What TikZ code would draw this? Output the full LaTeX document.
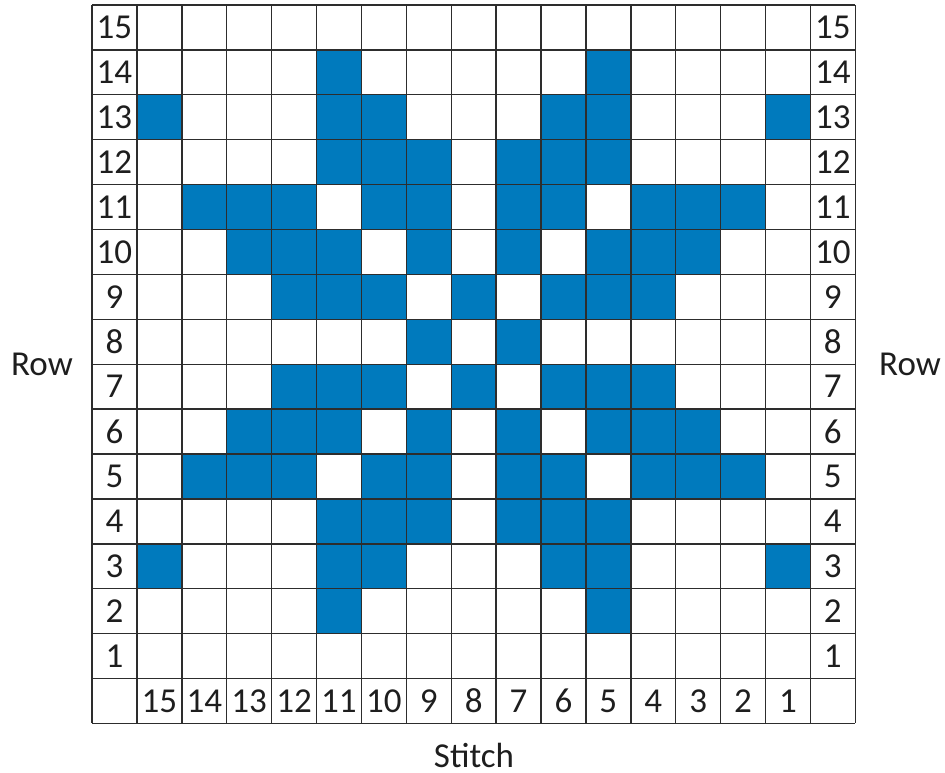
\documentclass[tikz,border=0pt]{standalone}
\usepackage{fontspec}
\setmainfont{Carlito}
\definecolor{knitblue}{RGB}{0,122,189}
\definecolor{gridgray}{RGB}{45,45,45}
\definecolor{textgray}{RGB}{30,30,30}
\begin{document}
\begin{tikzpicture}[x=1pt,y=-1pt,
  cellfill/.style={fill=knitblue},
  gridline/.style={draw=gridgray,line width=1.4pt},
  numlabel/.style={font=\fontsize{35}{38}\selectfont,text=textgray,inner sep=0pt},
  axislabel/.style={font=\fontsize{35}{38}\selectfont,text=textgray,inner sep=0pt}]
\useasboundingbox (0,0) rectangle (945,773);
\def\c{44.9}
\def\xo{92}
\def\yo{5}
% filled cells
\foreach \r/\lst in {14/{11,5},13/{15,11,10,6,5,1},12/{11,10,9,7,6,5},
  11/{14,13,12,10,9,7,6,4,3,2},10/{13,12,11,9,7,5,4,3},9/{12,11,10,8,6,5,4},
  8/{9,7},7/{12,11,10,8,6,5,4},6/{13,12,11,9,7,5,4,3},
  5/{14,13,12,10,9,7,6,4,3,2},4/{11,10,9,7,6,5},3/{15,11,10,6,5,1},2/{11,5}}{
  \foreach \s in \lst {
    \fill[cellfill] ({\xo+(16-\s)*\c},{\yo+(15-\r)*\c}) rectangle +(\c,\c);
  }
}
% grid
\foreach \i in {0,...,17}
  \draw[gridline] ({\xo+\i*\c},\yo) -- ({\xo+\i*\c},{\yo+16*\c});
\foreach \j in {0,...,16}
  \draw[gridline] (\xo,{\yo+\j*\c}) -- ({\xo+17*\c},{\yo+\j*\c});
% row numbers
\foreach \r in {1,...,15}{
  \node[numlabel] (rl\r) at ({\xo+0.5*\c},{\yo+(15.5-\r)*\c}) {\r};
  \node[numlabel] (rr\r) at ({\xo+16.5*\c},{\yo+(15.5-\r)*\c}) {\r};
}
% stitch numbers
\foreach \s in {1,...,15}
  \node[numlabel] (st\s) at ({\xo+(16.5-\s)*\c},{\yo+15.5*\c}) {\s};
% axis labels
\node[axislabel] (rowL) at (42,364) {Row};
\node[axislabel] (rowR) at (910,364) {Row};
\node[axislabel] (stitch) at (474,755) {Stitch};
\end{tikzpicture}
\end{document}
